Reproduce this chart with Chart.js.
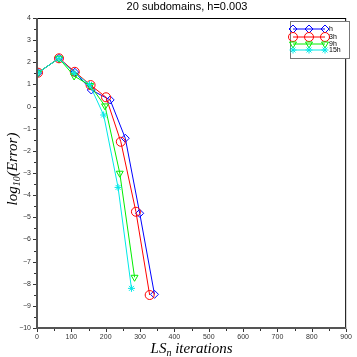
<!DOCTYPE html>
<html>
<head>
<meta charset="utf-8">
<script src="https://cdn.jsdelivr.net/npm/chart.js"></script>
<style>
html,body{margin:0;padding:0;background:#fff;}
#wrap{width:357px;height:357px;position:relative;}
</style>
</head>
<body>
<div id="wrap"><canvas id="c" width="357" height="357"></canvas></div>
<script>
/* Data */

const titleText="20 subdomains, h=0.003";

const seriesNames=["h","3h","9h","15h"];

const itersH=[3,64,110,158,213,257,299,342];
const errH=[1.53,2.18,1.55,0.75,0.30,-1.43,-4.82,-8.48];

const iters3h=[3,64,110,156,201,244,288,328];
const err3h=[1.53,2.18,1.57,0.97,0.42,-1.59,-4.75,-8.51];

const iters9h=[3,64,108,155,198,241,284];
const err9h=[1.53,2.18,1.38,0.95,0.03,-3.01,-7.71];

const iters15h=[3,64,108,153,194,236,275];
const err15h=[1.53,2.18,1.53,1.00,-0.38,-3.65,-8.21];

const xTicks=[0,100,200,300,400,500,600,700,800,900];
const yTicks=[-10,-9,-8,-7,-6,-5,-4,-3,-2,-1,0,1,2,3,4];

/* helpers */

const pts=(xs,ys)=>xs.map((x,i)=>({x:x,y:ys[i]}));

const styles=[
{color:"#0000ff",pointStyle:"rectRot",radius:4,rotation:0},
{color:"#ff0000",pointStyle:"circle",radius:4.5,rotation:0},
{color:"#00ee00",pointStyle:"triangle",radius:4,rotation:180},
{color:"#00e8e8",pointStyle:"star",radius:3.5,rotation:0}
];

const allX=[itersH,iters3h,iters9h,iters15h];
const allY=[errH,err3h,err9h,err15h];

const datasets=seriesNames.map((name,i)=>({
label:name,
data:pts(allX[i],allY[i]),
showLine:true,
borderColor:styles[i].color,
backgroundColor:"rgba(0,0,0,0)",
borderWidth:1,
pointStyle:styles[i].pointStyle,
pointRadius:styles[i].radius,
pointRotation:styles[i].rotation,
pointBorderColor:styles[i].color,
pointBackgroundColor:"rgba(0,0,0,0)",
pointBorderWidth:1,
order:3-i
}));

const minus=v=>String(v).replace("-","\u2212");

/* Frame, ticks, titles, legend */

const decor={
id:"decor",
afterDraw(chart){
const ctx=chart.ctx;
const a=chart.chartArea;
const xs=chart.scales.x;
const ys=chart.scales.y;
ctx.save();

// frame
ctx.strokeStyle="#000";
ctx.lineWidth=1;
ctx.strokeRect(a.left+0.5,a.top+0.5,a.right-a.left-1,a.bottom-a.top);
ctx.strokeStyle="#555";
ctx.lineWidth=2;
ctx.beginPath();
ctx.moveTo(a.left,a.top);
ctx.lineTo(a.left,a.bottom);
ctx.lineTo(a.right,a.bottom);
ctx.stroke();

// tick marks
ctx.strokeStyle="#333";
ctx.lineWidth=1;
ctx.beginPath();
for(let v=-10;v<=4;v+=0.5){
const y=Math.round(ys.getPixelForValue(v))+0.5;
const len=Number.isInteger(v)?3:2;
ctx.moveTo(a.left-1,y);
ctx.lineTo(a.left-1-len,y);
}
for(let v=0;v<=900;v+=50){
const x=Math.round(xs.getPixelForValue(v))+0.5;
const len=v%100===0?3:2;
ctx.moveTo(x,a.bottom+1);
ctx.lineTo(x,a.bottom+1+len);
}
ctx.stroke();

// title
ctx.fillStyle="#000";
ctx.font="11px 'Liberation Sans', Arial, sans-serif";
ctx.textAlign="center";
ctx.textBaseline="alphabetic";
ctx.fillText(titleText,187,10);

// x axis title: LS_n iterations
const big="italic 15px 'Liberation Serif', 'DejaVu Serif', serif";
const small="italic 10px 'Liberation Serif', 'DejaVu Serif', serif";
ctx.textAlign="left";
ctx.font=big;
const w1=ctx.measureText("LS").width;
ctx.font=small;
const w2=ctx.measureText("n").width;
ctx.font=big;
const w3=ctx.measureText(" iterations").width;
let sx=(a.left+a.right)/2-(w1+w2+w3)/2;
const by=353;
ctx.fillText("LS",sx,by);
ctx.font=small;
ctx.fillText("n",sx+w1,by+3);
ctx.font=big;
ctx.fillText(" iterations",sx+w1+w2,by);

// y axis title: log_10(Error)
ctx.save();
ctx.translate(17,(a.top+a.bottom)/2-4);
ctx.rotate(-Math.PI/2);
ctx.font=big;
const u1=ctx.measureText("log").width;
ctx.font=small;
const u2=ctx.measureText("10").width;
ctx.font=big;
const u3=ctx.measureText("(Error)").width;
let tx=-(u1+u2+u3)/2;
ctx.fillText("log",tx,0);
ctx.font=small;
ctx.fillText("10",tx+u1,3);
ctx.font=big;
ctx.fillText("(Error)",tx+u1+u2,0);
ctx.restore();

// legend
const lx=290,ly=21,lw=59,lh=37;
ctx.fillStyle="#fff";
ctx.fillRect(lx,ly,lw,lh);
ctx.strokeStyle="#777";
ctx.lineWidth=1;
ctx.strokeRect(lx+0.5,ly+0.5,lw,lh);
const rows=[29,37,44,50];
chart.data.datasets.forEach((ds,i)=>{
const y=rows[i];
ctx.strokeStyle=ds.borderColor;
ctx.lineWidth=1;
ctx.beginPath();
ctx.moveTo(293,y);
ctx.lineTo(325,y);
ctx.stroke();
ctx.fillStyle="rgba(0,0,0,0)";
[293,309,325].forEach(px=>{
Chart.helpers.drawPoint(ctx,{
pointStyle:ds.pointStyle,
radius:ds.pointRadius,
rotation:ds.pointRotation,
borderWidth:1
},px,y);
});
ctx.fillStyle="#000";
ctx.font="7px 'Liberation Sans', Arial, sans-serif";
ctx.textAlign="left";
ctx.textBaseline="middle";
ctx.fillText(ds.label,329,y+0.5);
});

ctx.restore();
}
};

/* Chart */

new Chart(document.getElementById("c"),{
type:"scatter",
data:{datasets:datasets},
options:{
responsive:false,
animation:false,
layout:{padding:{left:0,top:18,right:4,bottom:0}},
plugins:{legend:{display:false},tooltip:{enabled:false},title:{display:false}},
scales:{
x:{
type:"linear",
min:0,
max:900,
afterBuildTicks:s=>{s.ticks=xTicks.map(v=>({value:v}));},
afterFit:s=>{s.height=29;},
grid:{display:false,drawTicks:false},
border:{display:false},
ticks:{
padding:5,
color:"#333",
font:{size:7,family:"'Liberation Sans', Arial, sans-serif"},
maxRotation:0,
autoSkip:false,
callback:v=>minus(v)
}
},
y:{
type:"linear",
min:-10,
max:4,
afterBuildTicks:s=>{s.ticks=yTicks.map(v=>({value:v}));},
afterFit:s=>{s.width=37;},
grid:{display:false,drawTicks:false},
border:{display:false},
ticks:{
padding:6,
color:"#333",
font:{size:7,family:"'Liberation Sans', Arial, sans-serif"},
autoSkip:false,
callback:v=>minus(v)
}
}
}
},
plugins:[decor]
});
</script>
</body>
</html>
